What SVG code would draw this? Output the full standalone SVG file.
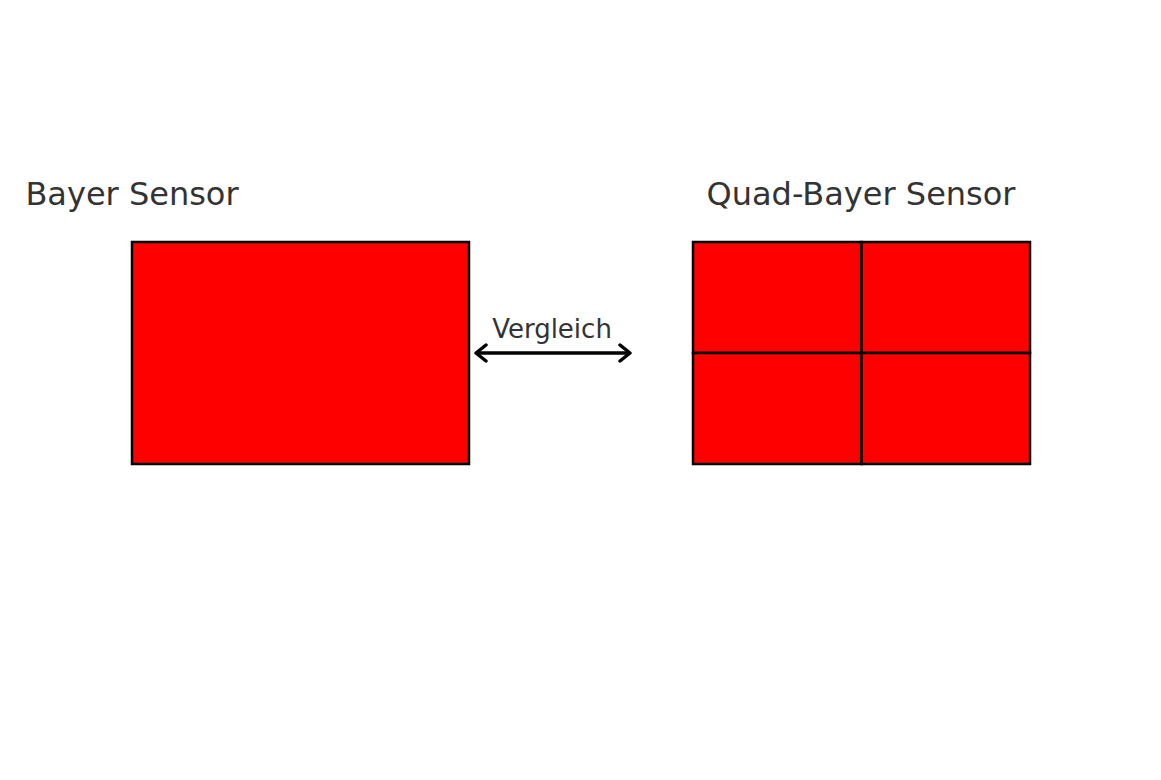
<svg xmlns="http://www.w3.org/2000/svg" width="1161" height="780" viewBox="0 0 1161 780">
<style>
.t{font-family:"DejaVu Sans",sans-serif;fill:#333}
.r{fill:#ff0000;stroke:#000;stroke-width:2.5}
</style>
<rect width="1161" height="780" fill="#fff"/>
<g id="bayer">
<rect class="r" x="132" y="242" width="337" height="222"/>
<text class="t" x="132" y="205" font-size="32" text-anchor="middle">Bayer Sensor</text>
</g>
<g id="quad">
<rect class="r" x="693" y="242" width="168.5" height="111"/>
<rect class="r" x="861.5" y="242" width="168.5" height="111"/>
<rect class="r" x="693" y="353" width="168.5" height="111"/>
<rect class="r" x="861.5" y="353" width="168.5" height="111"/>
<text class="t" x="861" y="205" font-size="32" text-anchor="middle">Quad-Bayer Sensor</text>
</g>
<g id="connectors">
<line x1="476" y1="353" x2="630" y2="353" stroke="#000" stroke-width="3.5"/>
<path d="M486,345 L476,353 L486,361 M620,345 L630,353 L620,361" fill="none" stroke="#000" stroke-width="3.5" stroke-linecap="round" stroke-linejoin="round"/>
<text class="t" x="552" y="338" font-size="26" text-anchor="middle">Vergleich</text>
</g>
</svg>
